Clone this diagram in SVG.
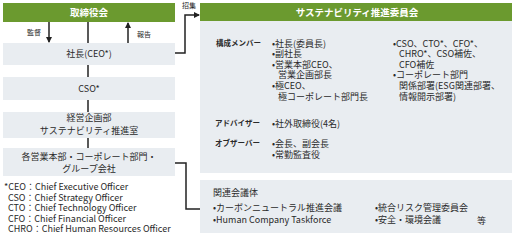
<svg xmlns="http://www.w3.org/2000/svg" width="514" height="235" viewBox="0 0 514 235">
<style>
.g{fill:#6b9a2f}
.b{fill:#e9edf1}
text{font-family:"Noto Sans CJK JP","Noto Sans",sans-serif;fill:#2a2a2a}
.h{font-size:9.5px;font-weight:bold;fill:#fff;text-anchor:middle}
.c{font-size:9px;text-anchor:middle}
.t{font-size:9px}
.k{font-size:7.5px;font-weight:bold}
.s{font-size:7px}
.f{font-size:9px}
.ln{stroke:#222;stroke-width:1.5;fill:none}
</style>
<defs>
<marker id="ar" markerWidth="6" markerHeight="6" refX="5" refY="3" orient="auto" markerUnits="userSpaceOnUse"><path d="M0,0 L6,3 L0,6 z" fill="#222"/></marker>
</defs>
<rect width="514" height="235" fill="#fff"/>
<g id="connectors">
<line class="ln" x1="49" y1="22" x2="49" y2="42" marker-end="url(#ar)"/>
<line class="ln" x1="88" y1="22" x2="88" y2="43"/>
<line class="ln" x1="128" y1="43" x2="128" y2="23" marker-end="url(#ar)"/>
<line class="ln" x1="88" y1="65" x2="88" y2="77"/>
<line class="ln" x1="88" y1="100" x2="88" y2="112"/>
<line class="ln" x1="88" y1="138" x2="88" y2="148"/>
<polyline class="ln" points="175,53 185,53 185,15 199,15" marker-end="url(#ar)"/>
<polyline class="ln" points="175,163 186,163 186,209 200,209"/>
<text class="s" x="27" y="35">監督</text>
<text class="s" x="137" y="37">報告</text>
<text class="s" x="182" y="8">招集</text>
</g>
<g id="board">
<rect class="g" x="3" y="3" width="172" height="19"/>
<text class="h" x="89" y="16">取締役会</text>
</g>
<g id="ceo">
<rect class="b" x="3" y="43" width="172" height="22"/>
<text class="c" x="89" y="57">社長(CEO*)</text>
</g>
<g id="cso">
<rect class="b" x="3" y="77" width="172" height="23"/>
<text class="c" x="89" y="92">CSO*</text>
</g>
<g id="planning">
<rect class="b" x="3" y="112" width="172" height="26"/>
<text class="c" x="89" y="121">経営企画部</text>
<text class="c" x="89" y="134">サステナビリティ推進室</text>
</g>
<g id="divisions">
<rect class="b" x="3" y="148" width="172" height="28"/>
<text class="c" x="89" y="160">各営業本部・コーポレート部門・</text>
<text class="c" x="89" y="172">グループ会社</text>
</g>
<g id="notes">
<text class="f" x="4" y="190">*CEO：Chief Executive Officer</text>
<text class="f" x="8" y="200.5">CSO：Chief Strategy Officer</text>
<text class="f" x="8" y="211">CTO：Chief Technology Officer</text>
<text class="f" x="8" y="221.5">CFO：Chief Financial Officer</text>
<text class="f" x="8" y="232">CHRO：Chief Human Resources Officer</text>
</g>
<g id="committee">
<rect class="g" x="200" y="3" width="312" height="18"/>
<rect class="b" x="200" y="21" width="312" height="152"/>
<text class="h" x="357" y="15.5">サステナビリティ推進委員会</text>
<text class="k" x="216" y="46">構成メンバー</text>
<text class="t" x="272" y="46.5">•社長(委員長)</text>
<text class="t" x="272" y="57">•副社長</text>
<text class="t" x="272" y="67.5">•営業本部CEO、</text>
<text class="t" x="278" y="78">営業企画部長</text>
<text class="t" x="272" y="89">•極CEO、</text>
<text class="t" x="278" y="100">極コーポレート部門長</text>
<text class="t" x="393" y="46.5">•CSO、CTO*、CFO*、</text>
<text class="t" x="399" y="57">CHRO*、CSO補佐、</text>
<text class="t" x="399" y="67.5">CFO補佐</text>
<text class="t" x="393" y="78">•コーポレート部門</text>
<text class="t" x="399" y="89">関係部署(ESG関連部署、</text>
<text class="t" x="399" y="100">情報開示部署)</text>
<text class="k" x="215" y="126">アドバイザー</text>
<text class="t" x="272" y="126.5">•社外取締役(4名)</text>
<text class="k" x="215" y="146">オブザーバー</text>
<text class="t" x="272" y="146.5">•会長、副会長</text>
<text class="t" x="272" y="158">•常勤監査役</text>
</g>
<g id="meetings">
<rect class="b" x="200" y="180" width="312" height="53"/>
<text class="t" x="213" y="196">関連会議体</text>
<text class="t" x="213" y="211">•カーボンニュートラル推進会議</text>
<text class="t" x="213" y="223">•Human Company Taskforce</text>
<text class="t" x="375" y="211">•統合リスク管理委員会</text>
<text class="t" x="375" y="223">•安全・環境会議</text>
<text class="t" x="477" y="224">等</text>
</g>
</svg>
